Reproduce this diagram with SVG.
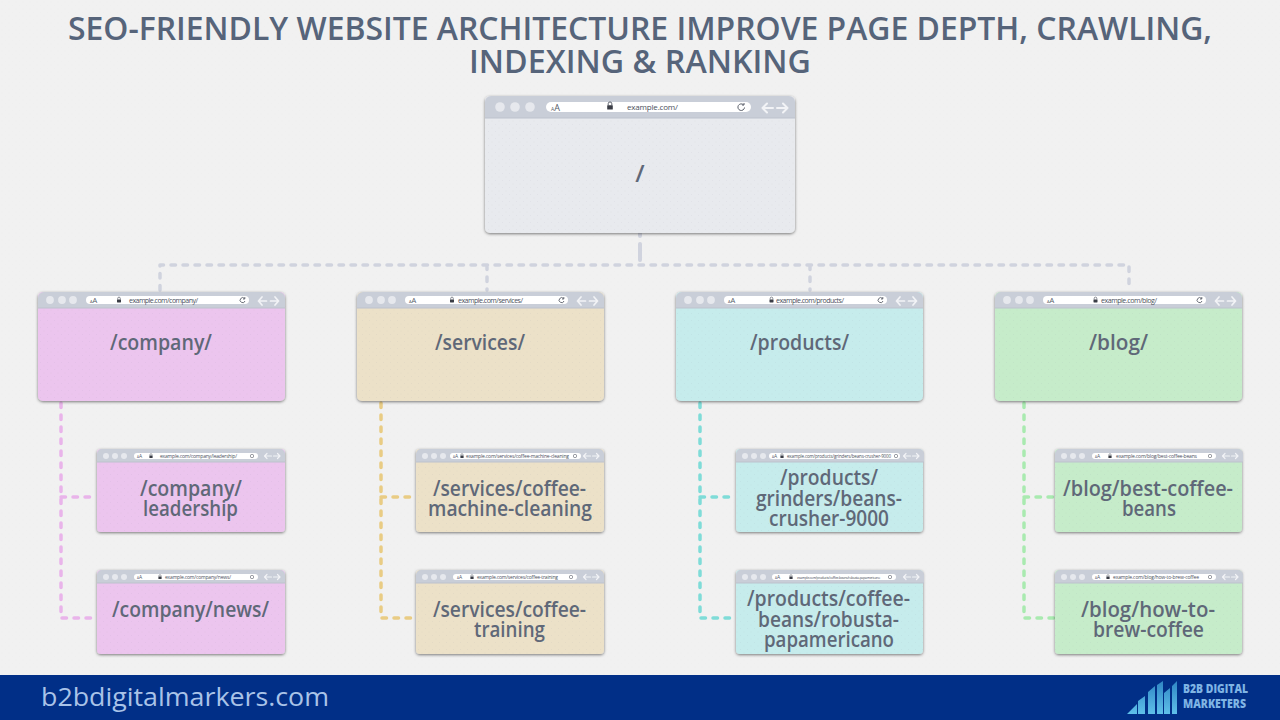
<svg xmlns="http://www.w3.org/2000/svg" width="1280" height="720" viewBox="0 0 1280 720">
<style>
text{font-family:"Open Sans","Noto Sans","Liberation Sans",sans-serif}
.title{font-size:32px;font-weight:600;fill:#56647a;text-anchor:middle}
.lbl{font-size:21px;font-weight:600;fill:#5f6878;text-anchor:middle}
.url{fill:#4a4f5c;font-weight:400}
.aa{fill:#555b68}
.aas{fill:#555b68;font-size:3px}
.aas tspan{font-size:5px}
.hd{fill:#c9ced8}
.hl{stroke:#bcc2cd;stroke-width:1;fill:none}
.dot{fill:#e6e8ed}
.bar{fill:#fff}
.arr{stroke:#f2f3f6;fill:none;stroke-linecap:round;stroke-linejoin:round}
.lk{fill:#3a3d46}
.rl{fill:none;stroke:#5a5f6a}
.con{fill:none;stroke-linecap:round;stroke-linejoin:round;stroke-dasharray:4.500 7.500;stroke-width:3.500}
.root{fill:#e8eaee}.co{fill:#ecc5ee}.se{fill:#ece1c8}.pr{fill:#c6ecec}.bl{fill:#c6ecca}
</style>
<defs>
<filter id="sh" x="-5%" y="-5%" width="110%" height="115%"><feDropShadow dx="0" dy="1" stdDeviation="1.800" flood-color="#000" flood-opacity=".5"/></filter>
<pattern id="tex" width="7" height="7" patternUnits="userSpaceOnUse"><circle cx="2" cy="2" r=".5" fill="#8a8a9a" fill-opacity=".12"/><circle cx="5.500" cy="5.500" r=".5" fill="#8a8a9a" fill-opacity=".09"/></pattern>
<linearGradient id="lg" x1="0" y1="0" x2="0" y2="1"><stop offset="0" stop-color="#2f86c4"/><stop offset="1" stop-color="#5fc0ea"/></linearGradient>
<g id="chL">
<path class="hd" d="M0 22V6a6 6 0 0 1 6-6H304a6 6 0 0 1 6 6V22Z"/><path class="hl" d="M0 22H310"/>
<circle class="dot" cx="15" cy="11" r="4.800"/><circle class="dot" cx="30" cy="11" r="4.800"/><circle class="dot" cx="45" cy="11" r="4.800"/>
<rect class="bar" x="61" y="6" width="205" height="10" rx="5"/>
<text class="aa" x="66" y="14.500" font-size="5">A<tspan font-size="9">A</tspan></text>
<path class="rl" d="M258.500 8.800A3.300 3.300 0 1 0 259.500 11.500M259 7V9H257" stroke-width="1"/>
<path class="arr" stroke-width="2" d="M277.500 12H288M282 7.500L277.500 12L282 16.500M292 12H302.500M298 7.500L302.500 12L298 16.500"/>
</g>
<g id="chM">
<path class="hd" d="M0 16V6a6 6 0 0 1 6-6H241a6 6 0 0 1 6 6V16Z"/><path class="hl" d="M0 16H247"/>
<circle class="dot" cx="12" cy="8" r="3.900"/><circle class="dot" cx="24" cy="8" r="3.900"/><circle class="dot" cx="35" cy="8" r="3.900"/>
<rect class="bar" x="48" y="4" width="163" height="8" rx="4"/>
<text class="aa" x="52" y="10.800" font-size="4">A<tspan font-size="7.500">A</tspan></text>
<path class="rl" d="M206.500 6.500A2.500 2.500 0 1 0 207 9M206.800 5V7H205" stroke-width=".9"/>
<path class="arr" stroke-width="1.700" d="M220.500 9H228.500M224 5L220.500 9L224 13M232.500 9H240.500M237 5L240.500 9L237 13"/>
</g>
<g id="chS">
<path class="hd" d="M0 13V5a5 5 0 0 1 5-5H183a5 5 0 0 1 5 5V13Z"/><path class="hl" d="M0 13H188"/>
<circle class="dot" cx="9" cy="7" r="3"/><circle class="dot" cx="18" cy="7" r="3"/><circle class="dot" cx="27" cy="7" r="3"/>
<path class="arr" stroke-width="1.200" d="M167.500 7H174.500M170 4.500L167.500 7L170 9.500M176.500 7H183M180.500 4.500L183 7L180.500 9.500"/>
</g>
<rect id="rs" class="rl" x="-1.500" y="-1.500" width="3" height="3" rx="1" stroke-width=".7"/>
<g id="lock"><path class="rl" d="M-1.300 -.5V-1.600a1.300 1.300 0 0 1 2.600 0V-.5" stroke-width=".7"/><rect class="lk" x="-2" y="-.6" width="4" height="3.100" rx=".4"/></g>
</defs>

<rect width="1280" height="720" fill="#f1f1f1"/>
<rect width="1280" height="720" fill="url(#tex)" opacity=".3"/>
<text class="title" x="640" y="40" textLength="1144" lengthAdjust="spacingAndGlyphs">SEO-FRIENDLY WEBSITE ARCHITECTURE IMPROVE PAGE DEPTH, CRAWLING,</text>
<text class="title" x="640" y="73" textLength="342" lengthAdjust="spacingAndGlyphs">INDEXING &amp; RANKING</text>

<g id="connectors">
<path d="M640 233V236M640 244V260" fill="none" stroke="#d0d3de" stroke-width="4" stroke-linecap="round"/>
<path class="con" stroke="#d0d3de" d="M160 290V265H1129V290M487 265V290M810 265V290"/>
<path class="con" stroke="#e9b4ea" d="M61 403V618H97M61 497H97"/>
<path class="con" stroke="#e9cc84" d="M381 403V618H416M381 497H416"/>
<path class="con" stroke="#7fdcd8" d="M700 403V618H736M700 497H736"/>
<path class="con" stroke="#a9eab0" d="M1024 403V618H1055M1024 497H1055"/>
</g>

<g id="node-root">
<rect class="root" x="485" y="96" width="310" height="137" rx="5" filter="url(#sh)"/>
<rect x="485" y="118" width="310" height="115" rx="4" fill="url(#tex)"/>
<use href="#chL" x="485" y="96"/>
<use href="#lock" transform="translate(610 106) scale(1.400)"/>
<text class="url" x="627" y="110" font-size="8" textLength="51">example.com/</text>
<text class="lbl" x="640" y="182" style="font-size:24px">/</text>
</g>

<g id="node-company">
<rect class="co" x="38" y="292" width="247" height="109" rx="5" filter="url(#sh)"/>
<rect x="38" y="308" width="247" height="93" rx="4" fill="url(#tex)"/>
<use href="#chM" x="38" y="292"/>
<use href="#lock" x="119" y="300"/>
<text class="url" x="129" y="303" font-size="7" textLength="69">example.com/company/</text>
<text class="lbl" x="161" y="350" textLength="102" lengthAdjust="spacingAndGlyphs">/company/</text>
</g>
<g id="node-services">
<rect class="se" x="357" y="292" width="247" height="109" rx="5" filter="url(#sh)"/>
<rect x="357" y="308" width="247" height="93" rx="4" fill="url(#tex)"/>
<use href="#chM" x="357" y="292"/>
<use href="#lock" x="452" y="300"/>
<text class="url" x="458" y="303" font-size="7" textLength="65">example.com/services/</text>
<text class="lbl" x="480" y="350" textLength="90" lengthAdjust="spacingAndGlyphs">/services/</text>
</g>
<g id="node-products">
<rect class="pr" x="676" y="292" width="247" height="109" rx="5" filter="url(#sh)"/>
<rect x="676" y="308" width="247" height="93" rx="4" fill="url(#tex)"/>
<use href="#chM" x="676" y="292"/>
<use href="#lock" x="771.500" y="300"/>
<text class="url" x="776" y="303" font-size="7" textLength="68">example.com/products/</text>
<text class="lbl" x="799.500" y="350" textLength="99" lengthAdjust="spacingAndGlyphs">/products/</text>
</g>
<g id="node-blog">
<rect class="bl" x="995" y="292" width="247" height="109" rx="5" filter="url(#sh)"/>
<rect x="995" y="308" width="247" height="93" rx="4" fill="url(#tex)"/>
<use href="#chM" x="995" y="292"/>
<use href="#lock" x="1095.500" y="300"/>
<text class="url" x="1101" y="303" font-size="7" textLength="56">example.com/blog/</text>
<text class="lbl" x="1118.500" y="350" textLength="59" lengthAdjust="spacingAndGlyphs">/blog/</text>
</g>

<g id="node-company-leadership">
<rect class="co" x="97" y="449" width="188" height="83" rx="4" filter="url(#sh)"/>
<rect x="97" y="462" width="188" height="70" rx="4" fill="url(#tex)"/>
<use href="#chS" x="97" y="449"/>
<rect class="bar" x="134" y="453" width="124" height="6" rx="3"/>
<text class="aas" x="137" y="458">A<tspan>A</tspan></text>
<use href="#rs" x="252" y="456"/>
<use href="#lock" transform="translate(151 456) scale(.8)"/>
<text class="url" x="160" y="458" font-size="5" textLength="77">example.com/company/leadership/</text>
<text class="lbl" x="191" y="496" textLength="102" lengthAdjust="spacingAndGlyphs">/company/</text>
<text class="lbl" x="190.500" y="516" textLength="95" lengthAdjust="spacingAndGlyphs">leadership</text>
</g>
<g id="node-company-news">
<rect class="co" x="97" y="570" width="188" height="84" rx="4" filter="url(#sh)"/>
<rect x="97" y="583" width="188" height="71" rx="4" fill="url(#tex)"/>
<use href="#chS" x="97" y="570"/>
<rect class="bar" x="134" y="574" width="124" height="6" rx="3"/>
<text class="aas" x="137" y="579">A<tspan>A</tspan></text>
<use href="#rs" x="252" y="577"/>
<use href="#lock" transform="translate(160 577) scale(.8)"/>
<text class="url" x="165" y="579" font-size="5" textLength="66">example.com/company/news/</text>
<text class="lbl" x="190.500" y="617" textLength="157" lengthAdjust="spacingAndGlyphs">/company/news/</text>
</g>
<g id="node-services-cleaning">
<rect class="se" x="416" y="449" width="188" height="83" rx="4" filter="url(#sh)"/>
<rect x="416" y="462" width="188" height="70" rx="4" fill="url(#tex)"/>
<use href="#chS" x="416" y="449"/>
<rect class="bar" x="450" y="453" width="131" height="6" rx="3"/>
<text class="aas" x="453" y="458">A<tspan>A</tspan></text>
<use href="#rs" x="575" y="456"/>
<use href="#lock" transform="translate(462 456) scale(.8)"/>
<text class="url" x="466" y="458" font-size="5" textLength="103">example.com/services/coffee-machine-cleaning</text>
<text class="lbl" x="509.500" y="496" textLength="153" lengthAdjust="spacingAndGlyphs">/services/coffee-</text>
<text class="lbl" x="510" y="516" textLength="164" lengthAdjust="spacingAndGlyphs">machine-cleaning</text>
</g>
<g id="node-services-training">
<rect class="se" x="416" y="570" width="188" height="84" rx="4" filter="url(#sh)"/>
<rect x="416" y="583" width="188" height="71" rx="4" fill="url(#tex)"/>
<use href="#chS" x="416" y="570"/>
<rect class="bar" x="453" y="574" width="124" height="6" rx="3"/>
<text class="aas" x="457" y="579">A<tspan>A</tspan></text>
<use href="#rs" x="571" y="577"/>
<use href="#lock" transform="translate(472 577) scale(.8)"/>
<text class="url" x="477" y="579" font-size="5" textLength="81">example.com/services/coffee-training</text>
<text class="lbl" x="509.500" y="617" textLength="153" lengthAdjust="spacingAndGlyphs">/services/coffee-</text>
<text class="lbl" x="509.500" y="637" textLength="71" lengthAdjust="spacingAndGlyphs">training</text>
</g>
<g id="node-products-grinders">
<rect class="pr" x="736" y="449" width="187" height="83" rx="4" filter="url(#sh)"/>
<rect x="736" y="462" width="187" height="70" rx="4" fill="url(#tex)"/>
<use href="#chS" x="736" y="449"/>
<rect class="bar" x="769" y="453" width="131" height="6" rx="3"/>
<text class="aas" x="772" y="458">A<tspan>A</tspan></text>
<use href="#rs" x="896" y="456"/>
<use href="#lock" transform="translate(782 456) scale(.8)"/>
<text class="url" x="787" y="458" font-size="4.500" textLength="104">example.com/products/grinders/beans-crusher-9000</text>
<text class="lbl" x="829" y="485" textLength="98" lengthAdjust="spacingAndGlyphs">/products/</text>
<text class="lbl" x="829" y="506" textLength="146" lengthAdjust="spacingAndGlyphs">grinders/beans-</text>
<text class="lbl" x="829" y="526" textLength="120" lengthAdjust="spacingAndGlyphs">crusher-9000</text>
</g>
<g id="node-products-robusta">
<rect class="pr" x="736" y="570" width="187" height="84" rx="4" filter="url(#sh)"/>
<rect x="736" y="583" width="187" height="71" rx="4" fill="url(#tex)"/>
<use href="#chS" x="736" y="570"/>
<rect class="bar" x="772" y="574" width="124" height="6" rx="3"/>
<text class="aas" x="775" y="579">A<tspan>A</tspan></text>
<use href="#rs" x="890" y="577"/>
<use href="#lock" transform="translate(791 577) scale(.8)"/>
<text class="url" x="797" y="578.500" font-size="3.500" textLength="83">example.com/products/coffee-beans/robusta-papamericano</text>
<text class="lbl" x="828.500" y="606" textLength="163" lengthAdjust="spacingAndGlyphs">/products/coffee-</text>
<text class="lbl" x="828.500" y="627" textLength="141" lengthAdjust="spacingAndGlyphs">beans/robusta-</text>
<text class="lbl" x="829" y="647" textLength="130" lengthAdjust="spacingAndGlyphs">papamericano</text>
</g>
<g id="node-blog-best">
<rect class="bl" x="1055" y="449" width="187" height="83" rx="4" filter="url(#sh)"/>
<rect x="1055" y="462" width="187" height="70" rx="4" fill="url(#tex)"/>
<use href="#chS" x="1055" y="449"/>
<rect class="bar" x="1092" y="453" width="124" height="6" rx="3"/>
<text class="aas" x="1095" y="458">A<tspan>A</tspan></text>
<use href="#rs" x="1210" y="456"/>
<use href="#lock" transform="translate(1110 456) scale(.8)"/>
<text class="url" x="1116" y="458" font-size="5" textLength="81">example.com/blog/best-coffee-beans</text>
<text class="lbl" x="1148" y="496" textLength="170" lengthAdjust="spacingAndGlyphs">/blog/best-coffee-</text>
<text class="lbl" x="1149" y="516" textLength="54" lengthAdjust="spacingAndGlyphs">beans</text>
</g>
<g id="node-blog-howto">
<rect class="bl" x="1055" y="570" width="187" height="84" rx="4" filter="url(#sh)"/>
<rect x="1055" y="583" width="187" height="71" rx="4" fill="url(#tex)"/>
<use href="#chS" x="1055" y="570"/>
<rect class="bar" x="1092" y="574" width="124" height="6" rx="3"/>
<text class="aas" x="1095" y="579">A<tspan>A</tspan></text>
<use href="#rs" x="1210" y="577"/>
<use href="#lock" transform="translate(1108 577) scale(.8)"/>
<text class="url" x="1113" y="579" font-size="5" textLength="86">example.com/blog/how-to-brew-coffee</text>
<text class="lbl" x="1148" y="617" textLength="134" lengthAdjust="spacingAndGlyphs">/blog/how-to-</text>
<text class="lbl" x="1148.500" y="637" textLength="111" lengthAdjust="spacingAndGlyphs">brew-coffee</text>
</g>

<rect y="675" width="1280" height="45" fill="#012f87"/>
<text x="41" y="706" font-size="25.500" fill="#a9c3e8" textLength="288" lengthAdjust="spacingAndGlyphs">b2bdigitalmarkers.com</text>
<path fill="url(#lg)" d="M1127 714L1137 704V714ZM1138 701L1145 696V714H1138ZM1148 692L1155 686V714H1148ZM1157 685L1163 681V714H1157ZM1164 693L1170 688V714H1164ZM1172 686L1177 681V714H1172Z"/>
<text x="1183" y="693" font-size="13" font-weight="800" fill="#7fb4e4" textLength="65" lengthAdjust="spacingAndGlyphs">B2B DIGITAL</text>
<text x="1183" y="708" font-size="13" font-weight="800" fill="#7fb4e4" textLength="63" lengthAdjust="spacingAndGlyphs">MARKETERS</text>
</svg>
